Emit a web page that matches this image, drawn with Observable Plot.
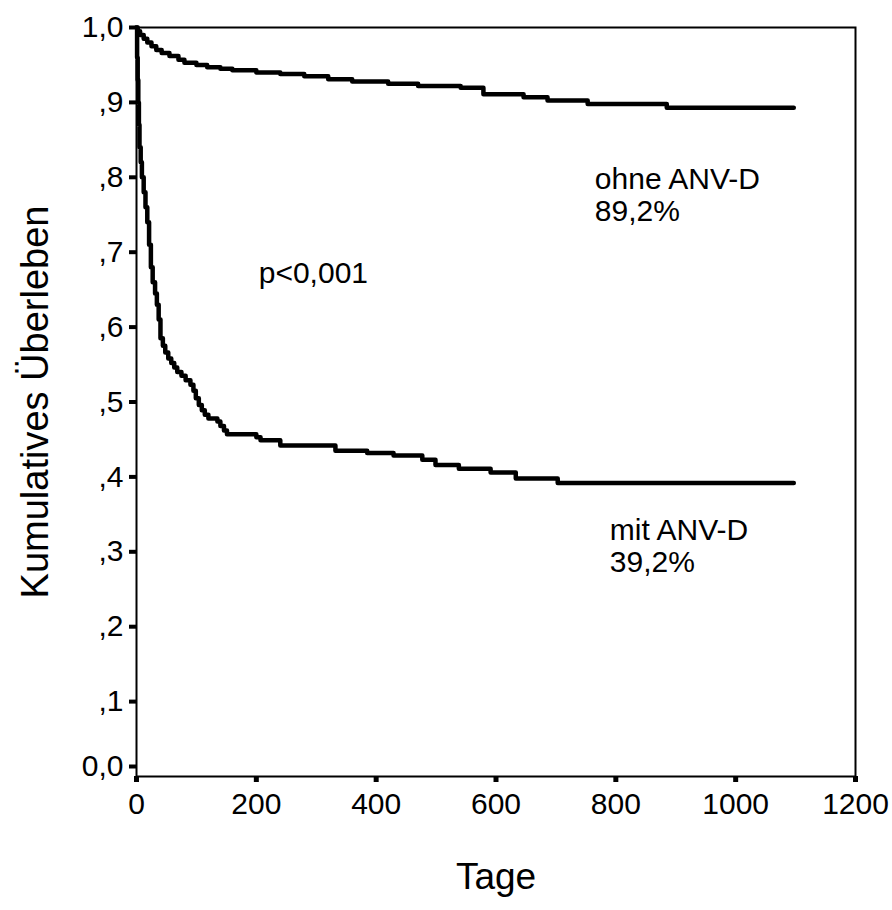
<!DOCTYPE html>
<html>
<head>
<meta charset="utf-8">
<script src="https://cdn.jsdelivr.net/npm/d3@7"></script>
<script src="https://cdn.jsdelivr.net/npm/@observablehq/plot@0.6"></script>
<style>
  html, body { margin: 0; padding: 0; background: #fff; }
</style>
</head>
<body>
<div id="chart"></div>
<script>
// Kaplan-Meier steps: ohne ANV-D
const ohneDays = [0, 2, 6, 12, 18, 25, 33, 42, 55, 70, 80, 100, 118, 140, 160, 200, 240, 280, 320, 360, 420, 470, 541, 579, 646, 686, 753, 885, 1097];
const ohneSurv = [1.0, 0.995, 0.99, 0.985, 0.98, 0.975, 0.97, 0.966, 0.962, 0.957, 0.953, 0.95, 0.947, 0.945, 0.943, 0.94, 0.938, 0.935, 0.931, 0.928, 0.925, 0.922, 0.9195, 0.911, 0.907, 0.9025, 0.898, 0.893, 0.893];

// Kaplan-Meier steps: mit ANV-D
const mitDays = [0, 1, 2, 3, 4, 5, 7, 9, 12, 15, 18, 21, 24, 27, 31, 34, 37, 40, 44, 48, 53, 58, 63, 68, 75, 82, 90, 95, 99, 104, 109, 114, 120, 135, 140, 146, 151, 200, 207, 240, 332, 385, 429, 477, 499, 538, 591, 633, 703, 1097];
const mitSurv = [1.0, 0.96, 0.93, 0.90, 0.87, 0.84, 0.82, 0.80, 0.78, 0.76, 0.74, 0.71, 0.68, 0.66, 0.645, 0.63, 0.61, 0.585, 0.575, 0.566, 0.558, 0.552, 0.546, 0.54, 0.535, 0.529, 0.523, 0.515, 0.505, 0.496, 0.489, 0.483, 0.478, 0.474, 0.468, 0.462, 0.457, 0.453, 0.449, 0.442, 0.435, 0.432, 0.4286, 0.423, 0.416, 0.411, 0.406, 0.398, 0.392, 0.392];

// Axes
const xTicks = [0, 200, 400, 600, 800, 1000, 1200];
const yTicks = [0.1, 0.2, 0.3, 0.4, 0.5, 0.6, 0.7, 0.8, 0.9, 1.0];
const yTickLabels = [",1", ",2", ",3", ",4", ",5", ",6", ",7", ",8", ",9", "1,0"];
const yZeroTick = [0];
const yZeroLabel = ["0,0"];
const xTitle = "Tage";
const yTitle = "Kumulatives Überleben";

// Annotations (data coordinates of block centre)
const noteTexts = ["ohne ANV-D\n89,2%", "p<0,001", "mit ANV-D\n39,2%"];
const noteDays = [765, 204, 790];
const noteSurv = [0.777, 0.673, 0.308];

const ohne = ohneDays.map((d, i) => ({day: d, surv: ohneSurv[i]}));
const mit = mitDays.map((d, i) => ({day: d, surv: mitSurv[i]}));
const notes = noteTexts.map((t, i) => ({text: t, day: noteDays[i], surv: noteSurv[i]}));

const chart = Plot.plot({
  width: 892,
  height: 910,
  marginLeft: 136,
  marginRight: 37,
  marginTop: 27,
  marginBottom: 134,
  style: {fontFamily: "'Liberation Sans', Arial, sans-serif", fontSize: "30px", color: "#000", background: "#fff"},
  x: {domain: [0, 1200]},
  y: {domain: [0, 1]},
  marks: [
    Plot.frame({stroke: "#000", strokeWidth: 2}),
    Plot.axisX({ticks: xTicks, tickSize: 6, tickPadding: 10, strokeWidth: 5, tickFormat: d => String(d), label: null, fontSize: 30}),
    Plot.axisY({ticks: yTicks, tickSize: 7, tickPadding: 6, strokeWidth: 4, tickFormat: d => yTickLabels[yTicks.indexOf(d)], label: null, fontSize: 30}),
    Plot.axisY({ticks: yZeroTick, tickSize: 7, tickPadding: 6, strokeWidth: 4, tickFormat: () => yZeroLabel[0], dy: -10, label: null, fontSize: 30}),
    Plot.line(ohne, {x: "day", y: "surv", curve: "step-after", stroke: "#000", strokeWidth: 4.5}),
    Plot.line(mit, {x: "day", y: "surv", curve: "step-after", stroke: "#000", strokeWidth: 4.5}),
    Plot.text(notes, {x: "day", y: "surv", text: "text", textAnchor: "start", lineHeight: 1.08, fontSize: 30, fill: "#000"}),
    Plot.text([xTitle], {frameAnchor: "bottom", dy: 112, fontSize: 37, fill: "#000"}),
    Plot.text([yTitle], {frameAnchor: "left", textAnchor: "middle", dx: -101, rotate: -90, fontSize: 38, fill: "#000"})
  ]
});
document.getElementById("chart").appendChild(chart);
</script>
</body>
</html>
